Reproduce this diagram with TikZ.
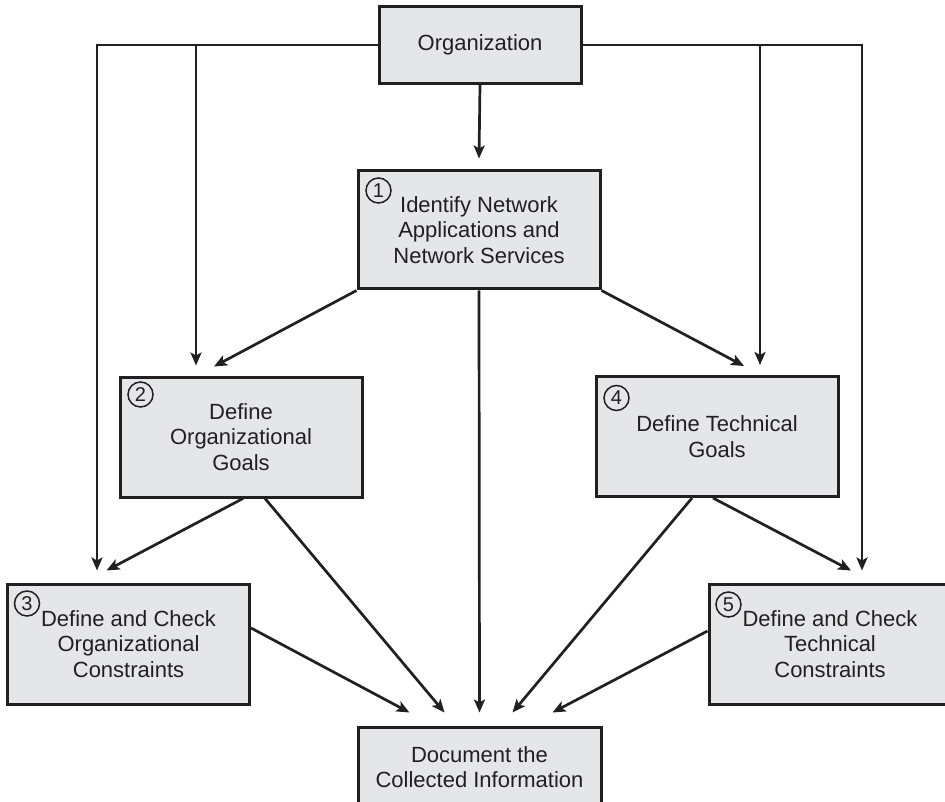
\documentclass[tikz,border=0pt]{standalone}
\usepackage{fontspec}
\setmainfont{Liberation Sans}
\usetikzlibrary{arrows.meta}
\definecolor{boxfill}{RGB}{229,230,232}
\definecolor{ink}{RGB}{35,31,32}

\begin{document}
\begin{tikzpicture}[x=1pt, y=-1pt,
    box/.style={draw=ink, fill=boxfill, line width=3pt, align=center,
      minimum width=242pt, minimum height=120pt, inner sep=0pt,
      font=\fontsize{22}{25.5}\selectfont, text=ink},
    num/.style={draw=ink, fill=boxfill, circle, line width=1.5pt,
      minimum size=25pt, inner sep=0pt, font=\fontsize{20}{20}\selectfont, text=ink},
    arr/.style={draw=ink, line width=2.7pt, -{Stealth[length=13pt, width=11pt, inset=3pt]}}]
  \useasboundingbox (0,0) rectangle (945,802);
  % boxes
  \node[box, minimum width=202pt, minimum height=77pt] (org) at (480,45) {Organization};
  \node[box, minimum height=118pt] (ident) at (479,230) {Identify Network\\Applications and\\Network Services};
  \node[box] (orggoals) at (241,437) {Define\\Organizational\\Goals};
  \node[box] (techgoals) at (717,436.5) {Define Technical\\Goals};
  \node[box] (orgcons) at (128.5,644) {Define and Check\\Organizational\\Constraints};
  \node[box] (techcons) at (830,644) {Define and Check\\Technical\\Constraints};
  \node[box, minimum width=243pt, minimum height=80pt] (doc) at (479.5,767) {Document the\\Collected Information};
  % step numbers
  \node[num] (n1) at ([shift={(22pt,-21pt)}]ident.north west) {1};
  \node[num] (n2) at ([shift={(22pt,-19pt)}]orggoals.north west) {2};
  \node[num] (n3) at ([shift={(21pt,-21pt)}]orgcons.north west) {3};
  \node[num] (n4) at ([shift={(22pt,-23pt)}]techgoals.north west) {4};
  \node[num] (n5) at ([shift={(21pt,-22pt)}]techcons.north west) {5};
  % from the organization
  \draw[arr] (org.south) -- ([yshift=11pt]ident.north);
  \draw[arr] (org.west) -| ([shift={(-31.5pt,12pt)}]orgcons.north);
  \draw[arr] (org.west) -| ([shift={(-45pt,10pt)}]orggoals.north);
  \draw[arr] (org.east) -| ([shift={(43pt,10pt)}]techgoals.north);
  \draw[arr] (org.east) -| ([shift={(32pt,12pt)}]techcons.north);
  % from step 1
  \draw[arr] (ident.south west) -- ([shift={(-27pt,9pt)}]orggoals.north);
  \draw[arr] (ident.south east) -- ([shift={(27pt,9pt)}]techgoals.north);
  \draw[arr] (ident.south) -- ([yshift=13pt]doc.north);
  % from the goals
  \draw[arr] ([xshift=2pt]orggoals.south) -- ([shift={(-22pt,12pt)}]orgcons.north);
  \draw[arr] ([xshift=24pt]orggoals.south) -- ([shift={(-35pt,13pt)}]doc.north);
  \draw[arr] ([xshift=-25pt]techgoals.south) -- ([shift={(33pt,13pt)}]doc.north);
  \draw[arr] ([xshift=-4pt]techgoals.south) -- ([shift={(21pt,12pt)}]techcons.north);
  % from the constraints
  \draw[arr] ([yshift=16pt]orgcons.east) -- ([shift={(-70pt,13pt)}]doc.north);
  \draw[arr] ([yshift=13pt]techcons.west) -- ([shift={(73pt,13pt)}]doc.north);
\end{tikzpicture}
\end{document}
